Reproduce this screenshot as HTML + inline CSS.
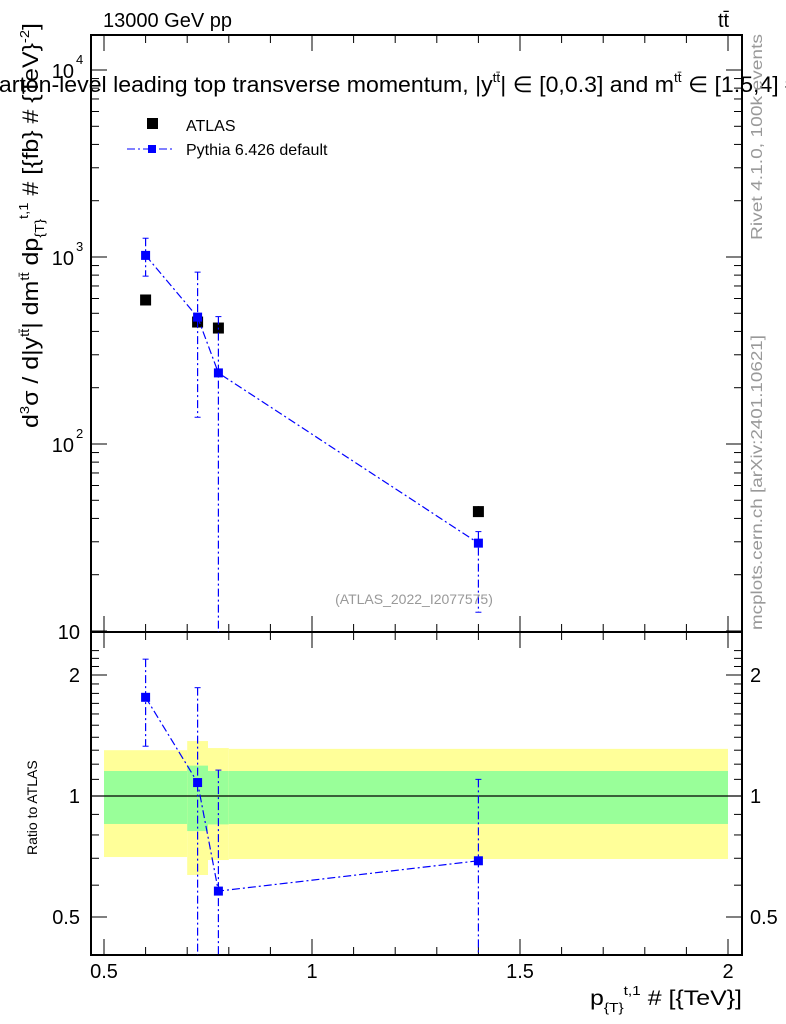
<!DOCTYPE html>
<html><head><meta charset="utf-8">
<style>
body{margin:0;background:#fff;}
svg{display:block;font-family:"Liberation Sans",sans-serif;}
</style></head>
<body>
<svg id="c" width="786" height="1024" viewBox="0 0 786 1024"></svg>
<script>
const xs=[0.6,0.725,0.775,1.4];
const atlasVals=[589,449,417,43.5];
const atlasErrLo=[560,430,400,41];
const atlasErrHi=[620,470,435,46.5];
const pyVals=[1020,477,240,29.5];
const pyErrLo=[790,139,1,12.6];
const pyErrHi=[1260,830,480,34];
const ratioVals=[1.76,1.08,0.58,0.69];
const ratioLo=[1.33,0.1,0.1,0.1];
const ratioHi=[2.19,1.86,1.16,1.10];
const binEdges=[0.5,0.7,0.75,0.8,2.0];
const yellowLo=[0.705,0.636,0.693,0.697];
const yellowHi=[1.30,1.37,1.316,1.31];
const greenLo=[0.852,0.818,0.85,0.852];
const greenHi=[1.154,1.19,1.154,1.154];
const xTicks=[0.5,1,1.5,2];
const xTickLabels=["0.5","1","1.5","2"];

const L=91,R=742,T=35,MB=632,RB=955;
const X=v=>104+(v-0.5)*416;
const Y=v=>70+(4-Math.log10(v))*187;
const YR=v=>796-Math.log2(v)*121;
const svg=document.getElementById('c');
const NS='http://www.w3.org/2000/svg';
function el(tag,attrs,parent){const e=document.createElementNS(NS,tag);for(const k in attrs)e.setAttribute(k,attrs[k]);(parent||svg).appendChild(e);return e;}
function clampM(y){return Math.max(T,Math.min(MB,y));}
function clampR(y){return Math.max(MB,Math.min(RB,y));}

for(let i=0;i<4;i++){
  const x1=X(binEdges[i]),x2=X(binEdges[i+1]);
  const b=el('rect',{x:x1,y:YR(yellowHi[i]),width:x2-x1,height:YR(yellowLo[i])-YR(yellowHi[i]),fill:'#ffff99'});
  
  
  const g=el('rect',{x:x1,y:YR(greenHi[i]),width:x2-x1,height:YR(greenLo[i])-YR(greenHi[i]),fill:'#99ff99'});
  
  
}
el('line',{x1:L,x2:R,y1:796,y2:796,stroke:'#000','stroke-width':1.2});

el('rect',{x:L,y:T,width:R-L,height:MB-T,fill:'none',stroke:'#000','stroke-width':2});
el('rect',{x:L,y:MB,width:R-L,height:RB-MB,fill:'none',stroke:'#000','stroke-width':2});

for(let v=0.5;v<=2.0001;v+=0.1){
  const big=Math.abs(v*2-Math.round(v*2))<1e-6;
  const len=big?16:8;const x=X(v);
  for(const [y0,d] of [[MB,-1],[RB,-1],[T,1],[MB,1]]){
    el('line',{x1:x,x2:x,y1:y0,y2:y0+d*len,stroke:'#000','stroke-width':1});
  }
}
xTicks.forEach((v,i)=>{const t=el('text',{x:X(v),y:978,'font-size':20,'text-anchor':'middle'});t.textContent=xTickLabels[i];
});

for(let d=1;d<=4;d++){for(let m=1;m<10;m++){const v=m*Math.pow(10,d);const y=Y(v);if(y<T||y>MB)continue;
 const len=m===1?16:8;
 el('line',{x1:L,x2:L+len,y1:y,y2:y,stroke:'#000'});el('line',{x1:R,x2:R-len,y1:y,y2:y,stroke:'#000'});}}
[[1,"10"],[2,"10"],[3,"10"],[4,"10"]].forEach(([p,s])=>{const y=Y(Math.pow(10,p));
 const t=el('text',{x:p===1?80:74,y:y+8,'font-size':20,'text-anchor':'end'});t.textContent=s;
 
 if(p>1){const s2=el('text',{x:76,y:y-6,'font-size':13});s2.textContent=p;}});

for(let v=0.4;v<=2.4;v+=0.1){const y=YR(v);if(y<MB||y>RB)continue;
 const big=[0.5,1,2].some(k=>Math.abs(k-v)<1e-6);const len=big?16:8;
 el('line',{x1:L,x2:L+len,y1:y,y2:y,stroke:'#000'});el('line',{x1:R,x2:R-len,y1:y,y2:y,stroke:'#000'});}
[[2,"2"],[1,"1"],[0.5,"0.5"]].forEach(([v,s])=>{const y=YR(v)+7;
 const a=el('text',{x:80,y:y,'font-size':20,'text-anchor':'end'});a.textContent=s;
 const b=el('text',{x:750,y:y,'font-size':20});b.textContent=s;});

xs.forEach((x,i)=>{
 el('line',{x1:X(x),x2:X(x),y1:Y(atlasErrHi[i]),y2:Y(atlasErrLo[i]),stroke:'#000','stroke-width':1.5});
 const r=el('rect',{x:X(x)-5.5,y:Y(atlasVals[i])-5.5,width:11,height:11,fill:'#000'});
 
});
const dash='8,3,2,3';
el('polyline',{points:xs.map((x,i)=>X(x)+','+Y(pyVals[i])).join(' '),fill:'none',stroke:'#0000ff','stroke-width':1.2,'stroke-dasharray':dash});
xs.forEach((x,i)=>{
 const y1=clampM(Y(pyErrHi[i])),y2=clampM(Y(pyErrLo[i]));
 el('line',{x1:X(x),x2:X(x),y1:y1,y2:y2,stroke:'#0000ff','stroke-width':1.2,'stroke-dasharray':dash});
 el('line',{x1:X(x)-3,x2:X(x)+3,y1:y1,y2:y1,stroke:'#0000ff'});
 if(y2<MB)el('line',{x1:X(x)-3,x2:X(x)+3,y1:y2,y2:y2,stroke:'#0000ff'});
 const r=el('rect',{x:X(x)-4.5,y:Y(pyVals[i])-4.5,width:9,height:9,fill:'#0000ff'});
 
});
el('polyline',{points:xs.map((x,i)=>X(x)+','+YR(ratioVals[i])).join(' '),fill:'none',stroke:'#0000ff','stroke-width':1.2,'stroke-dasharray':dash});
xs.forEach((x,i)=>{
 const y1=clampR(YR(ratioHi[i])),y2=clampR(YR(ratioLo[i]));
 el('line',{x1:X(x),x2:X(x),y1:y1,y2:y2,stroke:'#0000ff','stroke-width':1.2,'stroke-dasharray':dash});
 el('line',{x1:X(x)-3,x2:X(x)+3,y1:y1,y2:y1,stroke:'#0000ff'});
 if(y2<RB)el('line',{x1:X(x)-3,x2:X(x)+3,y1:y2,y2:y2,stroke:'#0000ff'});
 const r=el('rect',{x:X(x)-4.5,y:YR(ratioVals[i])-4.5,width:9,height:9,fill:'#0000ff'});
 
});
</script>
<svg style="position:absolute;left:0;top:0" width="786" height="1024">
<g font-family="Liberation Sans, sans-serif">
<text x="103" y="27" font-size="20">13000 GeV pp</text>
<text x="718" y="27" font-size="20">tt̄</text>
<text x="-14" y="92" font-size="22" textLength="812" lengthAdjust="spacingAndGlyphs">parton-level leading top transverse momentum, |y<tspan font-size="13" dy="-10">tt̄</tspan><tspan dy="10">| ∈ [0,0.3] and m</tspan><tspan font-size="13" dy="-10">tt̄</tspan><tspan dy="10"> ∈ [1.5,4] #</tspan></text>
<rect x="147" y="118" width="11" height="11" fill="#000"/>
<text x="186" y="131" font-size="16">ATLAS</text>
<line x1="127" x2="172" y1="149" y2="149" stroke="#0000ff" stroke-dasharray="8,3,2,3"/>
<rect x="148" y="145" width="8" height="8" fill="#0000ff"/>
<text x="186" y="155" font-size="16">Pythia 6.426 default</text>
<text x="414" y="604" font-size="14" fill="#999" text-anchor="middle">(ATLAS_2022_I2077575)</text>
<text transform="translate(38,428) rotate(-90)" font-size="22" textLength="405" lengthAdjust="spacingAndGlyphs">d<tspan font-size="13" dy="-9">3</tspan><tspan dy="9">σ / d|y</tspan><tspan font-size="13" dy="-9">tt̄</tspan><tspan dy="9">| dm</tspan><tspan font-size="13" dy="-9">tt̄</tspan><tspan dy="9"> dp</tspan><tspan font-size="13" dy="6">{T}</tspan><tspan font-size="13" dy="-16">t,1</tspan><tspan dy="10"> # [{fb} # {TeV}</tspan><tspan font-size="13" dy="-9">-2</tspan><tspan dy="9">]</tspan></text>
<text transform="translate(37,855) rotate(-90)" font-size="14">Ratio to ATLAS</text>
<text x="590" y="1005" font-size="21" textLength="152" lengthAdjust="spacingAndGlyphs">p<tspan font-size="13" dy="7">{T}</tspan><tspan font-size="13" dy="-17">t,1</tspan><tspan dy="10"> # [{TeV}]</tspan></text>
<text transform="translate(762,240) rotate(-90)" font-size="16" fill="#999" textLength="206" lengthAdjust="spacingAndGlyphs">Rivet 4.1.0,  100k events</text>
<text transform="translate(762,630) rotate(-90)" font-size="16" fill="#999" textLength="295" lengthAdjust="spacingAndGlyphs">mcplots.cern.ch [arXiv:2401.10621]</text>
</g>
</svg>
</body></html>
